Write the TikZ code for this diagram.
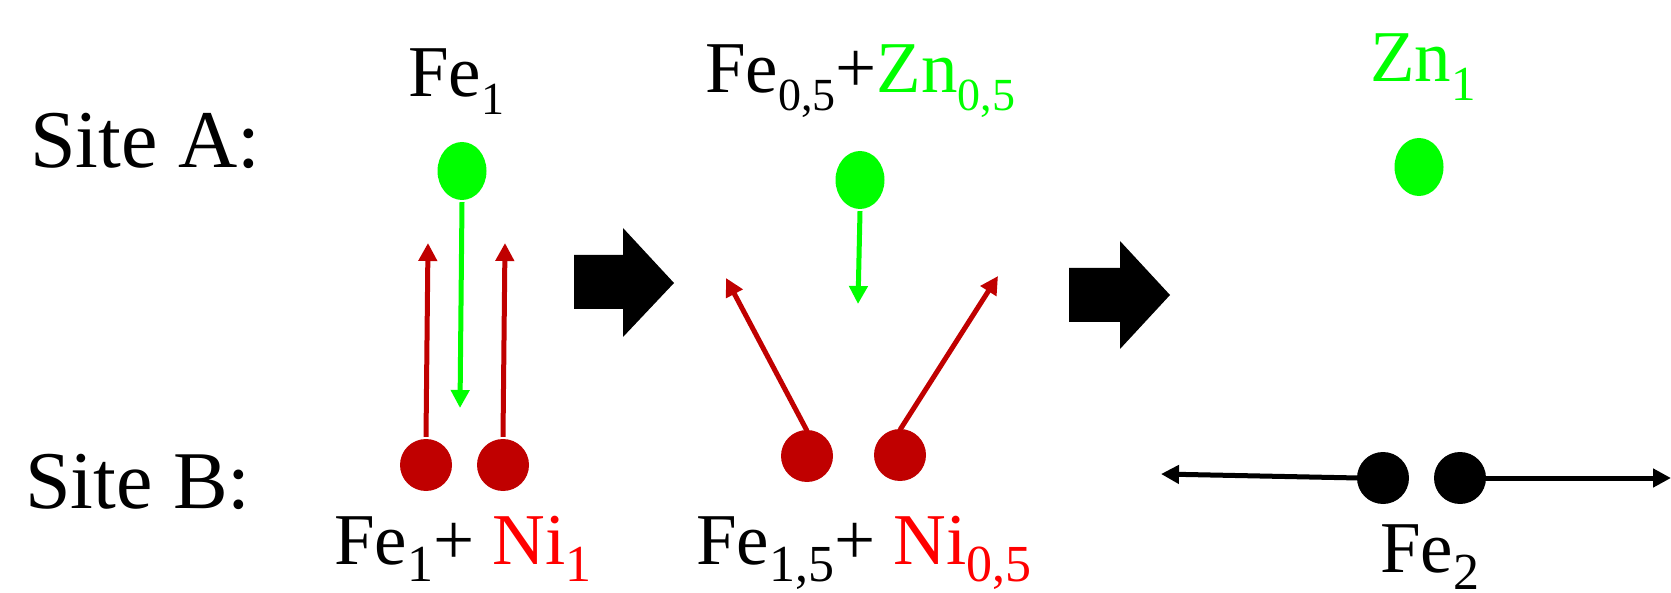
\documentclass[tikz,border=0pt]{standalone}
\usepackage{fontspec}
\setmainfont{Liberation Serif}
\usetikzlibrary{arrows.meta,shapes.geometric}
\definecolor{brightgreen}{RGB}{0,255,0}
\definecolor{darkred}{RGB}{192,0,0}
\definecolor{brightred}{RGB}{255,0,0}
\newcommand{\lowsub}[3]{\raisebox{-#1pt}{\fontsize{#2}{#2}\selectfont #3}}
\begin{document}
\begin{tikzpicture}[x=1pt,y=-1pt,
  sitelabel/.style={anchor=base west, inner sep=0pt, font=\rmfamily\fontsize{82}{90}\selectfont},
  chem/.style={anchor=base west, inner sep=0pt, font=\rmfamily\fontsize{73}{80}\selectfont},
  greenatom/.style={ellipse, fill=brightgreen, minimum width=49pt, minimum height=58pt, inner sep=0pt},
  redatom/.style={circle, fill=darkred, minimum size=52pt, inner sep=0pt},
  blackatom/.style={circle, fill=black, minimum size=52pt, inner sep=0pt},
  move/.style={line width=5pt, -{Triangle[length=18pt,width=18pt]}},
  blockarrow/.style={fill=black}
]
\useasboundingbox (0,0) rectangle (1671,593);

% labels
\node[sitelabel] (siteA) at (30,168) {Site A:};
\node[sitelabel] (siteB) at (25,508) {Site B:};
\node[chem] (lA1) at (408,97) {Fe\lowsub{18}{46}{1}};
\node[chem] (lA2) at (705,93) {Fe\lowsub{18}{46}{0,5}+{\color{brightgreen}Zn\lowsub{18}{46}{0,5}}};
\node[chem, text=brightgreen] (lA3) at (1370,82) {Zn\lowsub{19}{49}{1}};
\node[chem] (lB1) at (334,564) {Fe\lowsub{17}{52}{1}+ {\color{brightred}Ni\lowsub{17}{52}{1}}};
\node[chem] (lB2) at (696,564) {Fe\lowsub{17}{52}{1,5}+ {\color{brightred}Ni\lowsub{17}{52}{0,5}}};
\node[chem] (lB3) at (1380,572) {Fe\lowsub{17}{52}{2}};

% atoms
\node[greenatom] (g1) at (462,171) {};
\node[greenatom] (g2) at (860,180) {};
\node[greenatom] (g3) at (1419,167) {};
\node[redatom] (r1) at (426,465) {};
\node[redatom] (r2) at (503,465) {};
\node[redatom] (r3) at (807,456) {};
\node[redatom] (r4) at (900,455) {};
\node[blackatom] (k1) at (1383,478) {};
\node[blackatom] (k2) at (1460,478) {};

% arrow end points
\coordinate (t1) at (428,243);
\coordinate (t2) at (505,243);
\coordinate (t3) at (460,408);
\coordinate (t4) at (858,304);
\coordinate (t5) at (726,278);
\coordinate (t6) at (998,276);
\coordinate (t7) at (1161,474);
\coordinate (t8) at (1671,478);

\draw[move, darkred] ([yshift=2pt]r1.north) -- (t1);
\draw[move, darkred] ([yshift=2pt]r2.north) -- (t2);
\draw[move, brightgreen] ([yshift=-2pt]g1.south) -- (t3);
\draw[move, brightgreen] ([yshift=-2pt]g2.south) -- (t4);
\draw[move, darkred] ([yshift=-1pt]r3.north) -- (t5);
\draw[move, darkred] ([yshift=-1pt]r4.north) -- (t6);
\draw[move, black] ([xshift=2pt]k1.west) -- (t7);
\draw[move, black] ([xshift=-2pt]k2.east) -- (t8);

% block arrows
\fill[blockarrow] (574,255) -- (623,255) -- (623,228) -- (674,283) -- (623,337) -- (623,309) -- (574,309) -- cycle;
\fill[blockarrow] (1069,268) -- (1120,268) -- (1120,241) -- (1170,295) -- (1120,349) -- (1120,322) -- (1069,322) -- cycle;
\end{tikzpicture}
\end{document}
